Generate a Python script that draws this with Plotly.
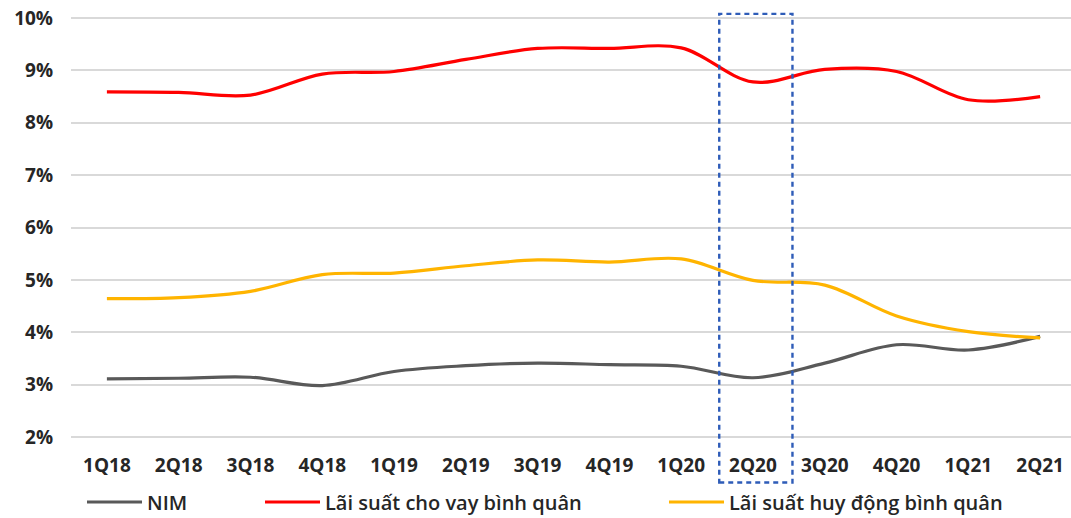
import plotly.graph_objects as go

quarters = ["1Q18", "2Q18", "3Q18", "4Q18", "1Q19", "2Q19", "3Q19", "4Q19",
            "1Q20", "2Q20", "3Q20", "4Q20", "1Q21", "2Q21"]
nim = [3.11, 3.12, 3.14, 2.98, 3.25, 3.36, 3.41, 3.38, 3.35, 3.13, 3.41, 3.76, 3.66, 3.92]
lending_rate = [8.59, 8.58, 8.53, 8.93, 8.98, 9.21, 9.42, 9.42, 9.43, 8.78, 9.02, 8.98, 8.44, 8.50]
deposit_rate = [4.64, 4.66, 4.78, 5.10, 5.13, 5.27, 5.38, 5.34, 5.40, 4.99, 4.90, 4.31, 4.01, 3.89]
y_ticks = [2, 3, 4, 5, 6, 7, 8, 9, 10]
y_tick_text = ["2%", "3%", "4%", "5%", "6%", "7%", "8%", "9%", "10%"]

FONT = "Open Sans"
TEXT = "#262626"

series = [
    ("NIM", nim, "#595959", "legend"),
    ("Lãi suất cho vay bình quân", lending_rate, "#FF0000", "legend2"),
    ("Lãi suất huy động bình quân", deposit_rate, "#FFB400", "legend3"),
]

fig = go.Figure()
for name, vals, color, lg in series:
    fig.add_trace(go.Scatter(
        x=list(range(len(quarters))), y=vals, name=name, mode="lines",
        line=dict(color=color, width=3.2, shape="spline", smoothing=1.0),
        legend=lg, showlegend=True, hoverinfo="skip",
    ))

# Dashed highlight around 2Q20
fig.add_shape(type="rect", xref="x", yref="paper",
              x0=8.53, x1=9.55, y0=-0.103, y1=1.005,
              line=dict(color="#2E5CB8", width=2.4, dash="5px,4px"),
              fillcolor="rgba(0,0,0,0)", layer="above")

legend_common = dict(orientation="h", xanchor="left", yanchor="middle",
                     bgcolor="rgba(0,0,0,0)", itemwidth=55,
                     font=dict(family=FONT, size=20, color=TEXT, weight=600),
                     xref="container", yref="container", visible=True)
tick_font = dict(family=FONT, size=19, color=TEXT, weight=700)
fig.update_layout(
    width=1071, height=518,
    showlegend=True,
    margin=dict(l=71, r=0, t=16, b=78.6),
    paper_bgcolor="white", plot_bgcolor="white",
    font=dict(family=FONT, color=TEXT),
    xaxis=dict(range=[-0.5, 13.43], tickmode="array",
               tickvals=list(range(len(quarters))), ticktext=quarters,
               showgrid=False, zeroline=False, showline=False, ticks="",
               tickfont=tick_font, ticklabelstandoff=13),
    yaxis=dict(range=[1.96, 10.04], tickmode="array", tickvals=y_ticks,
               ticktext=y_tick_text, showgrid=True, gridcolor="#D9D9D9",
               gridwidth=1.5, zeroline=False, showline=False, ticks="",
               tickfont=tick_font, ticklabelstandoff=17),
    legend=dict(x=82 / 1071, y=16 / 518, **legend_common),
    legend2=dict(x=260 / 1071, y=16 / 518, **legend_common),
    legend3=dict(x=664 / 1071, y=16 / 518, **legend_common),
)

fig.write_html("out.html")
